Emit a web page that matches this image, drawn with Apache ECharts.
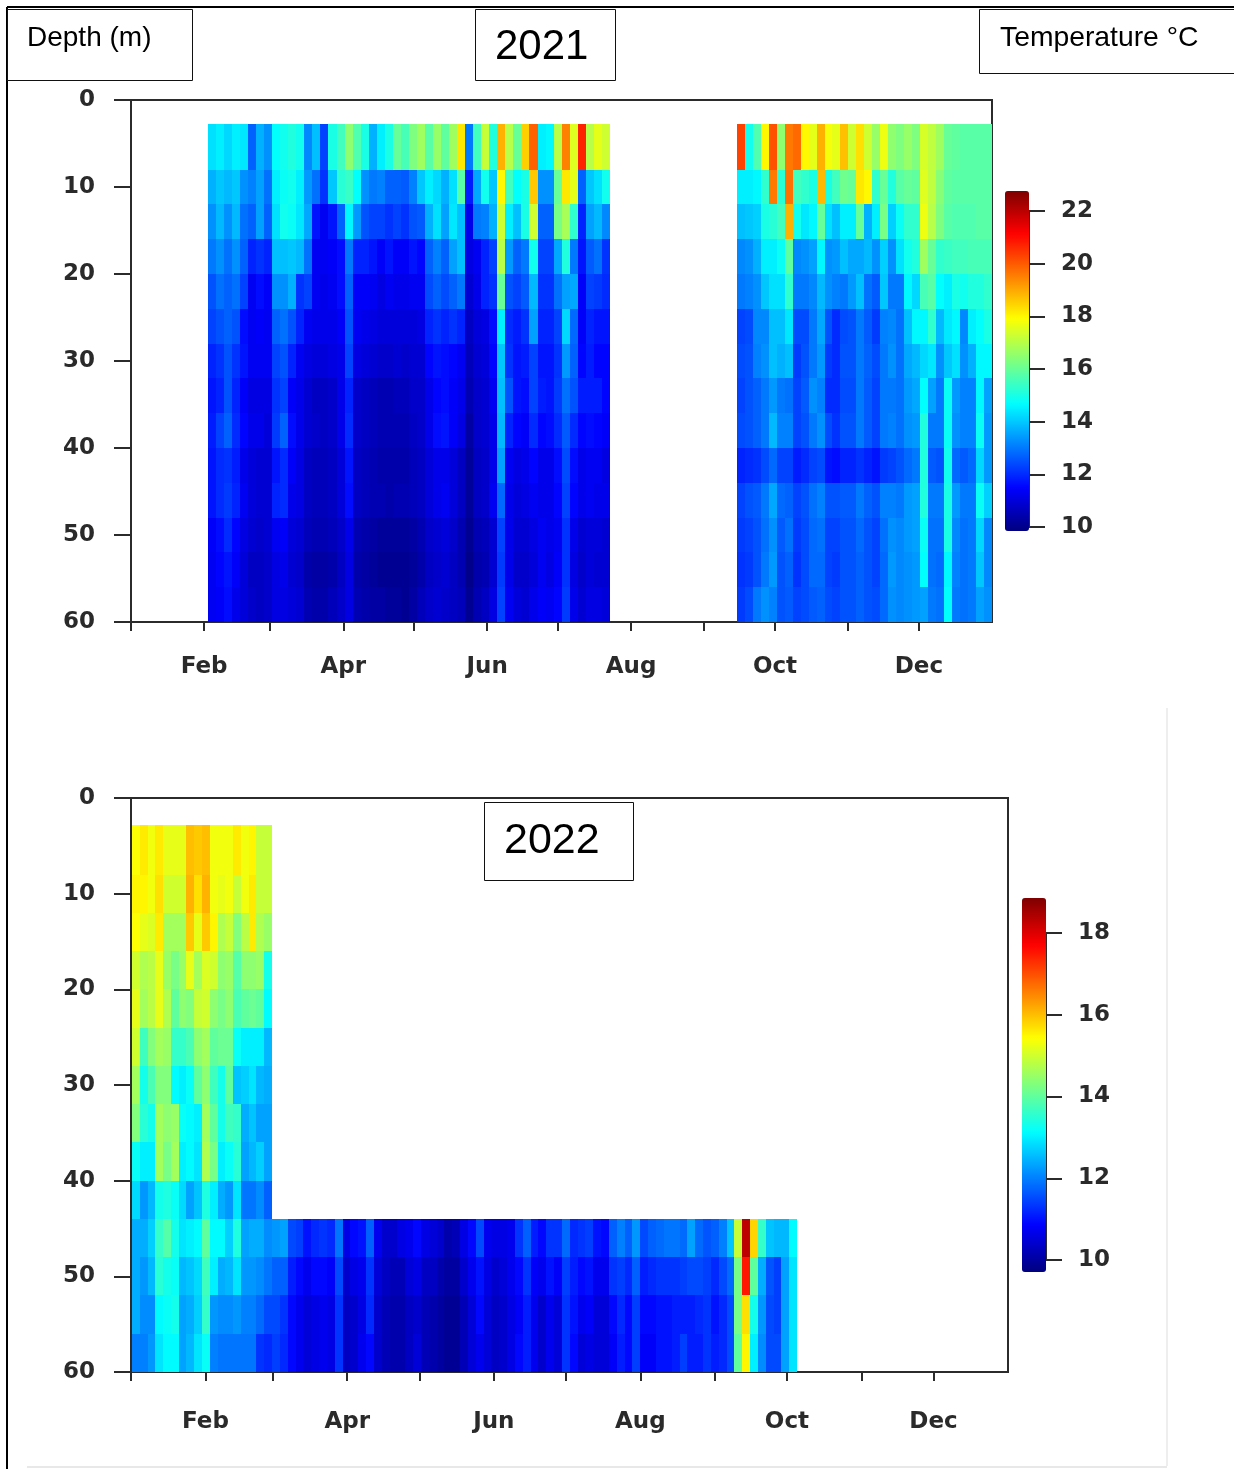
<!DOCTYPE html>
<html>
<head>
<meta charset="utf-8">
<style>html,body{margin:0;padding:0;background:#fff}#c{width:1234px;height:1469px}</style>
<script src="https://cdn.jsdelivr.net/npm/echarts@6/dist/echarts.min.js"></script>
</head>
<body>
<div id="c"></div>
<script>
// Shared axis content
const monthDays = [0,31,59,90,120,151,181,212,243,273,304,334];
const labelDays = [31,90,151,212,273,334];
const labelNames = ['Feb','Apr','Jun','Aug','Oct','Dec'];
const depthTicks = [0,10,20,30,40,50,60];
const depthEdges = [2.8,8,12,16,20,24,28,32,36,40,44,48,52,56,60];

// 2021, first block (days 32.6 to 203): one array per depth layer, top to bottom
const span21a = [32.6,203];
const a1_r01 = [14.3,14.5,14.2,14.5,14.4,12.7,13.7,13.3,14.7,14.9,15.1,14.9,13.2,13.9,12.3,15.0,15.5,16.5,15.7,15.0,13.7,14.5,15.0,16.0,15.6,16.3,16.7,15.8,16.6,15.9,16.7,18.2,13.0,15.5,17.2,15.1,18.9,17.0,16.0,18.5,19.9,14.5,14.6,17.0,19.5,17.5,20.7,17.0,17.6,17.3];
const a1_r02 = [13.7,14.0,13.8,14.0,13.3,13.1,13.5,12.9,14.5,14.8,14.9,14.5,13.4,12.9,12.1,14.0,15.2,15.4,14.7,13.3,13.0,13.1,12.7,12.7,12.6,13.1,14.0,14.5,14.2,13.7,14.3,15.8,11.8,13.6,14.9,14.0,18.0,15.5,14.7,15.0,18.6,13.3,13.3,16.0,18.2,17.6,12.7,14.0,14.3,14.9];
const a1_r03 = [13.3,13.8,13.3,13.8,12.9,12.7,13.5,12.7,14.3,14.9,14.8,14.4,13.6,11.7,11.3,11.7,12.7,14.6,13.4,12.5,12.3,12.3,12.1,12.3,12.1,12.5,12.6,13.7,14.3,13.5,14.4,13.9,11.2,13.0,13.1,13.7,17.3,14.5,13.9,15.0,17.3,12.7,12.7,16.2,16.8,15.3,11.9,13.5,13.8,13.2];
const a1_r04 = [13.0,13.3,12.9,13.3,12.7,11.9,12.1,11.9,13.9,13.9,14.0,13.8,12.9,11.3,11.3,11.4,11.6,13.0,11.9,11.9,11.7,11.4,11.7,11.4,11.4,11.7,11.5,12.7,13.1,12.7,13.5,13.9,11.1,11.3,11.9,12.3,17.0,13.4,12.7,13.0,14.9,12.3,12.3,13.6,15.1,13.0,11.7,12.6,12.9,12.1];
const a1_r05 = [12.5,12.9,12.7,12.9,12.3,11.3,11.6,11.4,13.3,13.3,13.7,12.1,12.3,11.3,11.2,11.3,11.6,12.7,11.4,11.4,11.3,11.1,11.3,11.2,11.2,11.3,11.3,12.4,12.7,12.4,12.7,13.0,10.9,11.2,11.9,12.1,16.0,12.5,12.3,12.6,13.8,12.1,12.1,12.9,13.5,13.6,11.4,12.3,12.2,12.0];
const a1_r06 = [12.3,12.5,12.7,12.5,11.6,11.3,11.4,11.3,12.7,12.9,12.5,11.9,11.3,11.2,11.2,11.2,11.4,12.5,11.3,11.2,11.1,11.0,11.0,11.0,11.0,11.0,11.1,11.9,12.1,11.9,12.1,11.9,10.7,11.0,11.1,11.6,14.5,12.0,11.8,12.1,13.5,11.9,11.9,12.3,14.2,12.8,11.4,11.9,11.7,11.7];
const a1_r07 = [11.9,12.1,12.5,12.1,11.7,11.3,11.3,11.3,12.3,12.5,11.9,11.3,11.1,11.0,11.0,11.1,11.2,12.3,11.1,11.0,10.9,10.8,10.8,10.9,10.8,10.9,10.9,11.5,11.7,11.6,11.5,11.3,10.6,10.9,11.0,11.5,14.0,12.1,11.7,11.8,12.3,11.7,11.7,12.1,13.4,12.7,11.5,11.8,11.5,11.5];
const a1_r08 = [11.7,11.9,12.5,11.9,11.4,11.1,11.1,11.1,12.1,12.3,11.4,11.2,10.9,10.7,10.7,10.8,11.2,11.9,10.8,10.7,10.6,10.5,10.5,10.6,10.6,10.8,10.8,11.2,11.5,11.6,11.4,11.2,10.5,10.8,10.9,11.3,13.9,12.5,11.7,11.6,12.3,11.8,11.7,12.2,12.9,12.5,11.8,11.8,11.8,11.5];
const a1_r09 = [11.8,12.3,12.7,12.0,11.5,11.2,11.2,11.0,12.2,12.7,11.6,11.2,10.9,10.8,10.7,10.8,11.2,12.0,10.8,10.7,10.6,10.5,10.5,10.5,10.5,10.7,10.8,11.2,11.6,11.7,11.4,11.1,10.3,10.8,10.9,11.2,13.8,11.9,11.5,11.4,12.0,11.5,11.6,12.0,12.6,12.0,11.5,11.6,11.5,11.4];
const a1_r10 = [11.7,12.0,12.1,11.8,11.2,11.0,10.9,10.9,11.7,12.0,11.4,11.1,10.7,10.6,10.6,10.7,11.0,11.7,10.7,10.6,10.5,10.4,10.4,10.4,10.4,10.6,10.7,11.0,11.2,11.2,11.0,10.7,10.2,10.7,10.8,11.2,13.5,11.3,11.1,11.2,11.5,11.2,11.2,11.6,12.4,11.6,11.2,11.3,11.3,11.1];
const a1_r11 = [11.7,12.0,12.2,11.9,11.3,11.0,10.9,10.9,11.9,12.0,11.2,11.1,10.7,10.6,10.6,10.7,11.0,11.6,10.7,10.6,10.5,10.5,10.4,10.5,10.5,10.6,10.7,11.0,11.2,11.3,11.0,10.7,10.2,10.7,10.8,11.3,12.8,11.2,11.0,11.1,11.3,11.2,11.2,11.5,12.3,11.5,11.2,11.3,11.2,11.2];
const a1_r12 = [11.4,11.6,12.0,11.5,11.1,10.9,10.8,10.9,11.3,11.4,11.0,10.9,10.6,10.5,10.5,10.6,10.8,11.2,10.5,10.4,10.3,10.2,10.2,10.2,10.2,10.3,10.5,10.8,10.9,11.0,10.8,10.5,10.1,10.5,10.6,10.9,12.3,11.2,10.9,10.9,11.1,11.3,11.2,11.3,12.1,11.2,10.9,11.0,11.0,10.9];
const a1_r13 = [11.3,11.5,11.7,11.4,11.0,10.7,10.7,10.8,11.1,11.2,10.9,10.8,10.4,10.3,10.3,10.4,10.7,11.1,10.4,10.3,10.2,10.1,10.1,10.1,10.1,10.2,10.4,10.7,10.8,10.9,10.7,10.5,10.0,10.4,10.5,10.9,12.2,11.2,10.8,10.8,11.0,11.3,11.1,11.4,12.1,11.1,10.8,11.0,10.9,10.9];
const a1_r14 = [11.3,11.4,11.6,11.2,11.0,10.8,10.7,10.8,11.1,11.1,11.0,10.9,10.5,10.4,10.4,10.6,10.8,11.1,10.5,10.4,10.3,10.3,10.2,10.2,10.1,10.3,10.6,10.8,10.9,10.8,10.7,10.6,10.1,10.5,10.7,11.1,12.3,11.3,11.0,10.9,11.2,11.4,11.3,11.5,12.2,11.2,10.9,11.1,11.1,11.0];

// 2021, second block (days 256.8 to 365)
const span21b = [256.8,365];
const a2_r01 = [20.3,14.9,15.7,18.0,20.1,16.5,19.6,19.8,18.0,17.6,18.9,17.8,17.6,18.7,17.3,18.3,17.3,16.6,17.7,16.5,16.3,16.6,16.3,17.4,17.1,16.7,16.0,15.9,15.8,15.8,15.8,15.8];
const a2_r02 = [14.5,14.5,14.6,15.3,19.6,15.2,19.7,15.5,15.3,15.0,18.8,15.0,15.5,16.1,16.0,18.2,18.0,15.3,16.0,15.1,15.8,16.0,15.9,17.5,17.1,16.4,15.9,15.8,15.8,15.8,15.8,15.8];
const a2_r03 = [13.9,14.0,14.1,15.0,15.2,15.5,18.9,14.9,14.4,14.6,16.0,14.3,13.9,14.5,14.5,16.0,13.7,14.5,16.2,14.1,14.8,15.3,15.3,17.7,17.0,16.3,15.8,15.7,15.7,15.7,15.8,15.8];
const a2_r04 = [13.2,13.3,13.7,14.5,14.5,14.8,15.9,13.2,13.3,13.5,14.6,13.3,13.4,13.9,13.6,13.6,13.8,13.3,14.1,13.3,14.3,14.9,15.1,16.7,16.0,15.3,15.4,15.5,15.5,15.6,15.6,15.6];
const a2_r05 = [13.0,13.1,13.3,14.0,14.3,14.3,15.3,13.0,13.0,13.2,13.8,13.3,13.1,13.0,13.4,13.9,12.9,12.6,14.0,13.0,13.0,14.6,14.2,15.6,15.8,14.7,14.5,15.0,14.9,15.1,15.1,15.3];
const a2_r06 = [12.3,12.4,13.2,13.2,13.9,13.9,14.4,12.4,12.4,13.0,13.6,12.5,12.0,12.4,12.5,13.0,12.6,12.2,13.1,13.2,12.9,13.9,14.6,14.6,15.3,13.8,14.4,14.6,13.2,14.5,14.7,15.0];
const a2_r07 = [12.4,12.5,13.1,13.3,13.9,13.7,13.9,12.2,12.5,13.0,13.4,12.2,12.0,12.5,12.5,13.0,12.7,12.4,13.0,13.3,12.9,13.6,13.8,14.2,14.4,13.3,14.0,14.3,13.3,13.7,14.6,14.6];
const a2_r08 = [12.3,12.5,12.7,13.0,13.4,13.0,12.9,12.3,12.6,13.3,13.1,12.0,12.0,12.4,12.4,13.0,12.6,12.3,13.0,13.0,12.9,13.4,13.6,14.7,13.5,13.0,14.8,13.4,13.1,13.1,14.6,13.5];
const a2_r09 = [12.4,12.5,12.7,13.0,13.8,13.1,13.1,12.3,12.5,13.0,13.3,12.4,12.1,12.5,12.5,13.0,12.6,12.3,13.0,13.1,12.9,13.3,13.4,15.1,13.0,13.0,14.8,13.3,13.1,13.1,14.8,13.4];
const a2_r10 = [11.9,12.0,12.1,12.4,12.8,12.3,12.3,11.8,12.0,12.3,12.4,11.7,11.6,11.9,11.9,12.1,11.9,11.7,12.2,12.3,12.5,12.8,13.0,15.1,12.6,12.5,14.9,12.8,12.6,12.8,14.2,13.4];
const a2_r11 = [12.3,12.5,12.6,13.0,13.6,12.8,12.7,12.3,12.5,12.9,13.1,12.5,12.5,12.6,12.6,13.0,12.7,12.5,13.1,13.1,13.0,13.4,13.5,15.1,13.0,13.0,15.0,13.4,13.0,13.0,14.8,14.1];
const a2_r12 = [12.2,12.3,12.5,12.9,13.3,12.6,12.9,12.2,12.4,12.8,12.9,12.3,12.3,12.5,12.5,12.8,12.5,12.3,12.9,13.3,13.2,13.4,13.5,14.8,12.9,12.9,15.0,13.2,12.9,13.0,14.2,13.2];
const a2_r13 = [12.1,12.2,12.5,13.0,13.4,12.5,12.7,12.1,12.4,12.8,12.8,12.3,12.2,12.5,12.5,12.7,12.5,12.3,12.8,13.4,13.2,13.3,13.4,14.7,12.9,12.8,14.6,13.1,12.9,13.0,14.0,13.2];
const a2_r14 = [12.2,12.4,13.0,13.3,13.1,12.5,12.6,12.3,12.4,12.6,12.7,12.4,12.3,12.5,12.5,12.7,12.5,12.4,12.8,13.3,13.2,13.3,13.4,13.5,13.0,12.9,14.7,13.0,12.9,13.0,13.5,13.3];

// 2022, all depths (days 0.4 to 58.7)
const span22a = [0.4,58.7];
const b1_r01 = [15.4,15.6,15.3,15.6,15.2,15.2,15.2,16.0,15.9,16.0,15.3,15.3,15.3,15.6,15.3,15.5,14.9,14.9];
const b1_r02 = [15.5,15.5,15.3,15.7,15.0,15.0,15.0,16.1,15.7,16.1,15.3,15.2,15.3,14.9,15.3,15.6,14.9,14.9];
const b1_r03 = [15.4,15.2,15.1,15.6,14.6,14.6,14.6,15.9,15.2,15.9,15.5,14.7,14.9,14.3,14.8,15.6,14.7,14.5];
const b1_r04 = [15.0,14.7,14.8,15.2,14.5,14.2,14.5,15.2,14.6,15.1,15.0,14.4,14.5,13.9,14.4,14.4,14.5,13.3];
const b1_r05 = [15.2,14.6,14.8,15.2,14.7,14.0,14.4,14.3,14.9,15.0,14.4,14.2,14.4,13.8,14.0,14.1,14.0,13.1];
const b1_r06 = [15.0,13.7,14.3,14.6,14.5,13.6,13.6,13.8,14.4,14.6,14.0,14.1,14.1,13.2,13.0,13.0,13.0,12.5];
const b1_r07 = [14.6,13.3,13.8,14.3,14.3,13.1,13.0,13.2,14.0,14.4,13.7,13.3,14.0,12.6,12.7,12.9,12.5,12.4];
const b1_r08 = [14.3,13.5,13.3,14.6,14.4,14.5,13.2,13.1,13.0,14.6,14.0,13.3,13.7,13.6,12.4,12.6,12.3,12.3];
const b1_r09 = [13.2,13.0,13.0,14.6,14.2,14.6,13.0,13.1,12.9,14.7,14.2,13.0,13.2,13.5,12.3,12.5,12.7,12.3];
const b1_r10 = [12.8,12.2,12.5,13.3,13.4,13.2,12.8,12.3,12.6,13.4,13.0,12.4,12.2,12.9,11.9,11.9,12.1,11.7];
const b1_r11 = [12.4,12.4,12.7,13.6,13.9,13.3,12.9,13.0,13.1,14.0,13.1,13.1,12.7,13.4,12.3,12.4,12.4,12.1];
const b1_r12 = [12.4,12.2,12.5,13.5,13.3,13.2,12.5,12.6,12.8,13.7,13.0,12.4,12.5,12.9,12.2,12.2,12.1,11.9];
const b1_r13 = [12.4,12.1,12.1,13.1,13.2,13.3,12.3,12.4,12.7,13.6,12.2,12.1,12.1,12.2,12.0,12.0,11.8,11.5];
const b1_r14 = [12.0,12.0,12.2,12.9,13.1,13.1,12.3,12.5,12.9,13.2,12.0,11.9,11.9,11.9,11.9,11.9,11.3,11.2];

// 2022, deep layers only (days 58.7 to 277.2), depths 44-60 m
const span22b = [58.7,277.2];
const b2_r11 = [12.2,12.3,11.5,11.4,11.0,11.2,11.3,11.2,11.9,10.6,10.9,11.0,11.7,10.7,10.4,10.4,10.6,10.7,10.9,10.6,10.5,10.4,10.1,10.2,10.6,10.9,11.5,10.7,10.6,10.6,10.7,11.3,11.7,11.1,10.9,11.3,11.3,11.8,11.2,11.3,11.4,11.0,10.9,11.7,12.0,11.7,12.2,11.5,11.7,11.8,11.9,11.9,11.8,12.3,11.8,11.6,11.7,12.0,12.6,14.9,18.3,15.8,13.6,12.6,12.5,12.5,13.1];
const b2_r12 = [11.7,11.7,11.1,10.9,10.7,10.9,10.9,10.8,11.5,10.4,10.6,10.7,11.3,10.5,10.3,10.2,10.2,10.5,10.6,10.3,10.3,10.1,10.0,10.0,10.4,10.7,11.0,10.6,10.4,10.5,10.7,10.9,11.3,10.8,10.7,11.0,10.8,11.4,11.1,10.9,11.0,10.7,10.7,11.3,11.4,11.2,11.7,11.1,11.2,11.3,11.3,11.3,11.4,11.5,11.5,11.4,11.2,11.5,11.8,14.2,17.5,14.0,12.4,11.6,11.4,12.3,12.9];
const b2_r13 = [11.5,11.3,10.9,10.7,10.5,10.6,10.7,10.6,11.3,10.3,10.4,10.6,11.2,10.4,10.2,10.1,10.1,10.3,10.4,10.2,10.1,10.0,9.9,9.9,10.2,10.5,10.9,10.5,10.3,10.4,10.6,10.8,11.1,10.7,10.4,10.7,10.5,11.3,11.0,10.7,10.8,10.5,10.5,10.9,11.2,10.9,11.4,10.9,10.9,11.0,11.0,11.1,11.1,11.1,11.2,11.3,11.0,11.2,11.5,14.2,15.7,13.3,12.2,11.5,11.4,12.3,12.9];
const b2_r14 = [11.4,11.2,10.9,10.7,10.5,10.6,10.7,10.6,11.3,10.3,10.4,10.7,10.9,10.4,10.2,10.1,10.1,10.3,10.5,10.2,10.1,10.0,9.9,9.9,10.2,10.5,10.7,10.5,10.3,10.4,10.6,10.9,11.1,10.7,10.4,10.7,10.5,11.3,10.9,10.5,10.6,10.5,10.5,10.8,11.1,10.9,11.4,10.8,10.8,11.0,11.0,11.1,11.4,11.1,11.1,11.3,11.1,11.2,11.5,14.0,15.5,13.0,12.1,11.5,11.5,12.3,12.9];

const jet = ['#00007f','#0000ff','#007fff','#00ffff','#7fff7f','#ffff00','#ff7f00','#ff0000','#7f0000'];

function cells(rows, firstRow, span) {
  const out = [];
  rows.forEach((row, r) => {
    const step = (span[1] - span[0]) / row.length;
    row.forEach((v, c) => {
      out.push([span[0] + c * step, span[0] + (c + 1) * step,
                depthEdges[firstRow + r], depthEdges[firstRow + r + 1], v]);
    });
  });
  return out;
}
const renderCell = (params, api) => {
  const p0 = api.coord([api.value(0), api.value(2)]);
  const p1 = api.coord([api.value(1), api.value(3)]);
  const x0 = Math.round(p0[0]), x1 = Math.round(p1[0]);
  const y0 = Math.round(p0[1]), y1 = Math.round(p1[1]);
  return {type:'rect', shape:{x:x0, y:y0, width:x1-x0, height:y1-y0},
          style:{fill:api.visual('color')}};
};
const heat = (i, data) => ({type:'custom', xAxisIndex:i, yAxisIndex:i, renderItem:renderCell,
  data, silent:true, animation:false, z:1,
  encode:{x:[0,1], y:[2,3]}, dimensions:['x0','x1','y0','y1','temp']});

const ink = '#2b2b2b';
const tickFont = {fontFamily:'DejaVu Sans', fontWeight:'bold', fontSize:23, color:'#2a2a2a'};
const timeAxis = (g) => ({
  type:'value', gridIndex:g, min:0, max:365, splitLine:{show:false},
  axisLine:{onZero:false, lineStyle:{color:ink, width:2}},
  axisTick:{length:9, customValues:monthDays, lineStyle:{color:ink, width:2}},
  axisLabel:Object.assign({margin:g === 0 ? 34 : 39, customValues:labelDays,
    formatter:(v)=>labelNames[labelDays.indexOf(v)]}, tickFont)
});
const depthAxis = (g) => ({
  type:'value', gridIndex:g, inverse:true, min:0, max:60, interval:10, splitLine:{show:false},
  axisLine:{onZero:false, lineStyle:{color:ink, width:2}},
  axisTick:{length:17, customValues:depthTicks, lineStyle:{color:ink, width:2}},
  axisLabel:Object.assign({margin:36, customValues:depthTicks, padding:[9,0,0,0]}, tickFont)
});
const barAxis = (g, lo, hi) => ({
  type:'value', gridIndex:g, position:'right', min:lo, max:hi, interval:2, splitLine:{show:false},
  axisLine:{onZero:false, lineStyle:{color:ink, width:2}},
  axisTick:{length:16, lineStyle:{color:ink, width:2}},
  axisLabel:Object.assign({margin:32, padding:[10,0,0,0]}, tickFont)
});
const hiddenX = (g) => ({type:'value', gridIndex:g, show:false, min:0, max:1});

const box = (x, y, w, h, label, tx, ty, size) => [
  {type:'rect', z:20, shape:{x:x+0.5, y:y+0.5, width:w, height:h},
   style:{fill:'#fff', stroke:'#111', lineWidth:1}},
  {type:'text', z:21, x:tx, y:ty, style:{text:label, fill:'#000',
   font:size+'px "Liberation Sans"', textVerticalAlign:'middle'}}
];
const rule = (x1, y1, x2, y2, c, w) => ({type:'line', z:19, shape:{x1,y1,x2,y2}, style:{stroke:c, lineWidth:w}});

const chart = echarts.init(document.getElementById('c'), null, {renderer:'canvas', width:1234, height:1469});
chart.setOption({
  animation:false,
  backgroundColor:'#fff',
  grid:[
    {left:131, top:100, width:861, height:522, show:true, borderColor:ink, borderWidth:2, backgroundColor:'transparent', containLabel:false},
    {left:131, top:798, width:877, height:574, show:true, borderColor:ink, borderWidth:2, backgroundColor:'transparent', containLabel:false},
    {left:1005, top:211, width:24, height:316},
    {left:1022, top:933, width:24, height:327}
  ],
  xAxis:[timeAxis(0), timeAxis(1), hiddenX(2), hiddenX(3)],
  yAxis:[depthAxis(0), depthAxis(1), barAxis(2,10,22), barAxis(3,10,18)],
  visualMap:[
    {type:'continuous', seriesIndex:[0,1], dimension:4, min:9.85, max:22.75, inRange:{color:jet},
     left:1005, top:191, itemWidth:24, itemHeight:340, padding:0, text:null, calculable:false, hoverLink:false, showLabel:false},
    {type:'continuous', seriesIndex:[2,3], dimension:4, min:9.7, max:18.85, inRange:{color:jet},
     left:1022, top:898, itemWidth:24, itemHeight:374, padding:0, text:null, calculable:false, hoverLink:false, showLabel:false}
  ],
  series:[
    heat(0, cells([a1_r01,a1_r02,a1_r03,a1_r04,a1_r05,a1_r06,a1_r07,a1_r08,a1_r09,a1_r10,a1_r11,a1_r12,a1_r13,a1_r14], 0, span21a)),
    heat(0, cells([a2_r01,a2_r02,a2_r03,a2_r04,a2_r05,a2_r06,a2_r07,a2_r08,a2_r09,a2_r10,a2_r11,a2_r12,a2_r13,a2_r14], 0, span21b)),
    heat(1, cells([b1_r01,b1_r02,b1_r03,b1_r04,b1_r05,b1_r06,b1_r07,b1_r08,b1_r09,b1_r10,b1_r11,b1_r12,b1_r13,b1_r14], 0, span22a)),
    heat(1, cells([b2_r11,b2_r12,b2_r13,b2_r14], 10, span22b))
  ],
  graphic:{elements:[
    rule(7,7,1234,7,'#000',2),
    rule(7,7,7,1469,'#000',2),
    rule(1167,708,1167,1466,'#eeeeee',2),
    rule(27,1467,1167,1467,'#e8e8e8',2),
    ...box(7,9,185,71,'Depth (m)',27,38,28),
    ...box(475,9,140,71,'2021',495,47,42),
    ...box(979,9,256,64,'Temperature °C',1000,38,28.3),
    ...box(484,802,149,78,'2022',504,841,43)
  ]}
});
</script>
</body>
</html>
